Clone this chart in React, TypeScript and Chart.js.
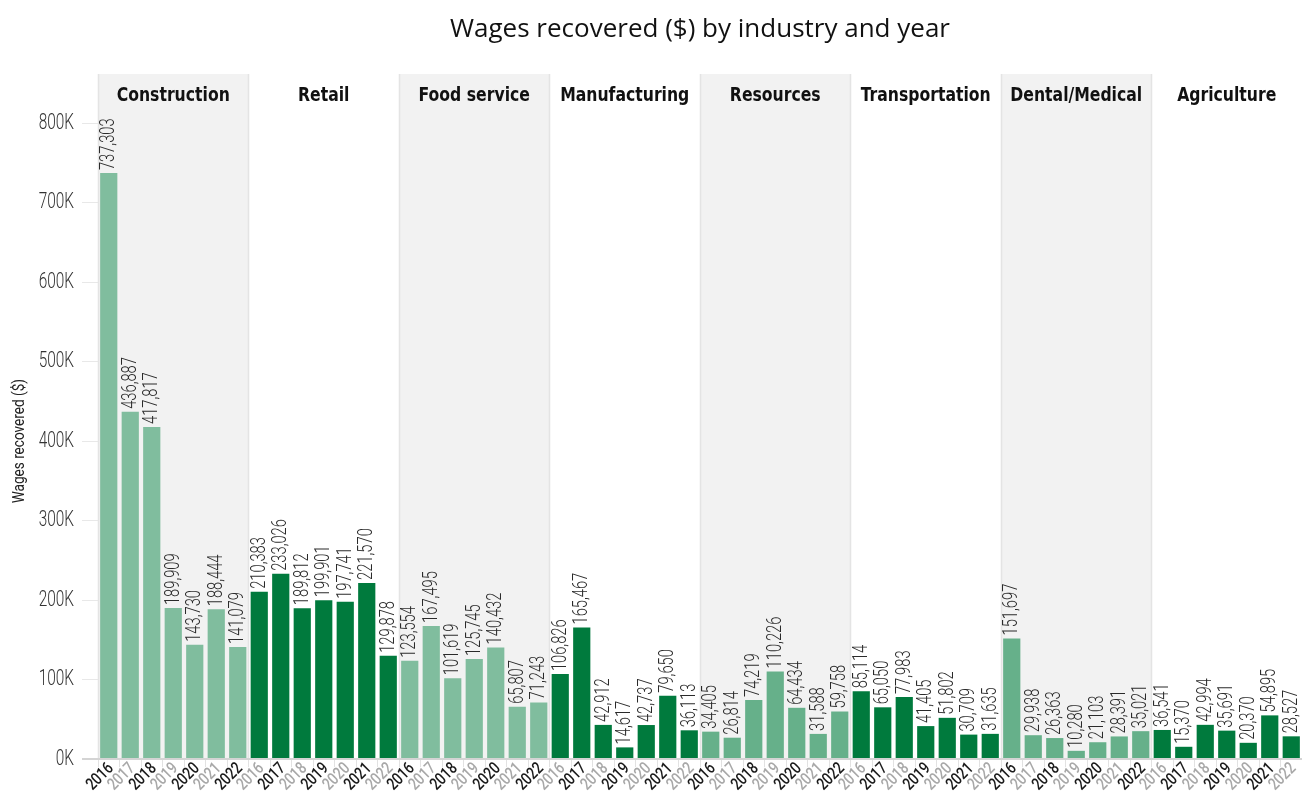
import React, { useEffect, useRef } from "react";
import { Chart, registerables } from "chart.js";

Chart.register(...registerables);

const industries = ["Construction", "Retail", "Food service", "Manufacturing", "Resources", "Transportation", "Dental/Medical", "Agriculture"];
const years = ["2016", "2017", "2018", "2019", "2020", "2021", "2022"];

const construction = [737303, 436887, 417817, 189909, 143730, 188444, 141079];
const retail = [210383, 233026, 189812, 199901, 197741, 221570, 129878];
const foodService = [123554, 167495, 101619, 125745, 140432, 65807, 71243];
const manufacturing = [106826, 165467, 42912, 14617, 42737, 79650, 36113];
const resources = [34405, 26814, 74219, 110226, 64434, 31588, 59758];
const transportation = [85114, 65050, 77983, 41405, 51802, 30709, 31635];
const dentalMedical = [151697, 29938, 26363, 10280, 21103, 28391, 35021];
const agriculture = [36541, 15370, 42994, 35691, 20370, 54895, 28527];

const seriesByIndustry = [construction, retail, foodService, manufacturing, resources, transportation, dentalMedical, agriculture];
const industryColors = ["#80bd9e", "#007a3d", "#80bd9e", "#007a3d", "#66b08a", "#007a3d", "#66b08a", "#007a3d"];
const shadedPanels = [true, false, true, false, true, false, true, false];

const yTicks = [0, 100000, 200000, 300000, 400000, 500000, 600000, 700000, 800000];

const COND = '"DejaVu Sans Condensed", "DejaVu Sans", sans-serif';
const LIGHT = 'Roboto, "Open Sans", sans-serif';

function drawScaledText(ctx: CanvasRenderingContext2D, text: string, x: number, y: number, font: string, sx: number, align: CanvasTextAlign, rotate = 0) {
  ctx.save();
  ctx.translate(x, y);
  if (rotate) ctx.rotate(rotate);
  ctx.scale(sx, 1);
  ctx.font = font;
  ctx.textAlign = align;
  ctx.textBaseline = "middle";
  ctx.fillText(text, 0, 0);
  ctx.restore();
}

export default function App() {
  const ref = useRef<HTMLCanvasElement | null>(null);

  useEffect(() => {
    document.body.style.margin = "0";
    const canvas = ref.current;
    if (!canvas) return;

    const labels: string[] = [];
    const values: number[] = [];
    const colors: string[] = [];
    seriesByIndustry.forEach((arr, i) => {
      arr.forEach((v, j) => {
        labels.push(years[j]);
        values.push(v);
        colors.push(industryColors[i]);
      });
    });

    const panelPlugin = {
      id: "panels",
      beforeDatasetsDraw(chart: any) {
        const { ctx, chartArea, scales } = chart;
        const x = scales.x;
        const y = scales.y;
        const step = x.getPixelForValue(1) - x.getPixelForValue(0);
        const bottom = y.getPixelForValue(0) - 1;
        ctx.save();
        industries.forEach((_, i) => {
          const left = x.getPixelForValue(i * 7) - step / 2;
          const right = x.getPixelForValue(i * 7 + 6) + step / 2;
          if (shadedPanels[i]) {
            ctx.fillStyle = "#f2f2f2";
            ctx.fillRect(left, chartArea.top, right - left, bottom - chartArea.top);
            ctx.strokeStyle = "#e4e4e4";
            ctx.lineWidth = 1.5;
            ctx.beginPath();
            ctx.moveTo(Math.round(left) + 0.5, chartArea.top);
            ctx.lineTo(Math.round(left) + 0.5, bottom);
            ctx.moveTo(Math.round(right) - 0.5, chartArea.top);
            ctx.lineTo(Math.round(right) - 0.5, bottom);
            ctx.stroke();
          }
        });
        ctx.restore();
      },
      afterDatasetsDraw(chart: any) {
        const { ctx, chartArea, scales } = chart;
        const x = scales.x;
        const y = scales.y;
        const step = x.getPixelForValue(1) - x.getPixelForValue(0);
        ctx.save();
        // industry headers
        ctx.fillStyle = "#111";
        industries.forEach((name, i) => {
          const left = x.getPixelForValue(i * 7) - step / 2;
          const right = x.getPixelForValue(i * 7 + 6) + step / 2;
          drawScaledText(ctx, name, (left + right) / 2, 96, `bold 20px ${COND}`, 0.87, "center");
        });
        // data labels
        const meta = chart.getDatasetMeta(0);
        ctx.fillStyle = "#2a2a2a";
        meta.data.forEach((bar: any, idx: number) => {
          const v = values[idx];
          drawScaledText(ctx, v.toLocaleString("en-US"), bar.x, bar.y - 3, `300 21px ${LIGHT}`, 0.7, "left", -Math.PI / 2);
        });
        // y tick labels
        ctx.fillStyle = "#333";
        y.ticks.forEach((t: any) => {
          drawScaledText(ctx, `${t.value / 1000}K`, chartArea.left - 24, y.getPixelForValue(t.value), `300 22px ${LIGHT}`, 0.7, "right");
        });
        // x tick labels
        labels.forEach((lab, i) => {
          ctx.fillStyle = i % 2 === 0 ? "#1a1a1a" : "#a8a8a8";
          drawScaledText(ctx, lab, x.getPixelForValue(i) + 2.5, chartArea.bottom + 7, `500 17px ${LIGHT}`, 0.8, "right", -Math.PI / 4);
        });
        // title
        ctx.fillStyle = "#111";
        ctx.font = `26px "Open Sans", sans-serif`;
        ctx.textAlign = "center";
        ctx.textBaseline = "middle";
        ctx.fillText("Wages recovered ($) by industry and year", (chartArea.left + chartArea.right) / 2, 30);
        // y title
        ctx.fillStyle = "#222";
        drawScaledText(ctx, "Wages recovered ($)", 20, y.getPixelForValue(400000), `17px ${LIGHT}`, 0.8, "center", -Math.PI / 2);
        ctx.restore();
      },
    };

    const chart = new Chart(canvas, {
      type: "bar",
      data: {
        labels,
        datasets: [
          {
            data: values,
            backgroundColor: colors,
            barPercentage: 0.8,
            categoryPercentage: 1,
          },
        ],
      },
      options: {
        responsive: false,
        animation: false,
        layout: { padding: { top: 74, right: 0, left: 0, bottom: 0 } },
        plugins: {
          legend: { display: false },
          title: { display: false },
          tooltip: { enabled: false },
        },
        scales: {
          x: {
            afterFit(scale: any) {
              scale.height = 38;
            },
            grid: {
              display: true,
              drawOnChartArea: false,
              offset: true,
              tickLength: 8,
              color: "#e2e2e2",
            },
            border: { display: false },
            ticks: {
              autoSkip: false,
              maxRotation: 0,
              minRotation: 0,
              padding: 0,
              callback: () => "",
            },
          },
          y: {
            min: 0,
            max: 862000,
            afterFit(scale: any) {
              scale.width = 98;
            },
            afterBuildTicks(scale: any) {
              scale.ticks = yTicks.map((v) => ({ value: v }));
            },
            grid: {
              color: (c: any) => (c.tick && c.tick.value === 0 ? "#d4d4d4" : "rgba(0,0,0,0)"),
              lineWidth: (c: any) => (c.tick && c.tick.value === 0 ? 2 : 1),
              tickColor: (c: any) => (c.tick && c.tick.value === 0 ? "#d4d4d4" : "#e8e8e8"),
              tickLength: 16,
            },
            border: { display: false },
            ticks: {
              padding: 7,
              callback: () => "",
            },
          },
        },
      },
      plugins: [panelPlugin],
    });

    return () => chart.destroy();
  }, []);

  return (
    <div style={{ width: 1302, height: 797 }}>
      <canvas ref={ref} width={1302} height={797} />
    </div>
  );
}
